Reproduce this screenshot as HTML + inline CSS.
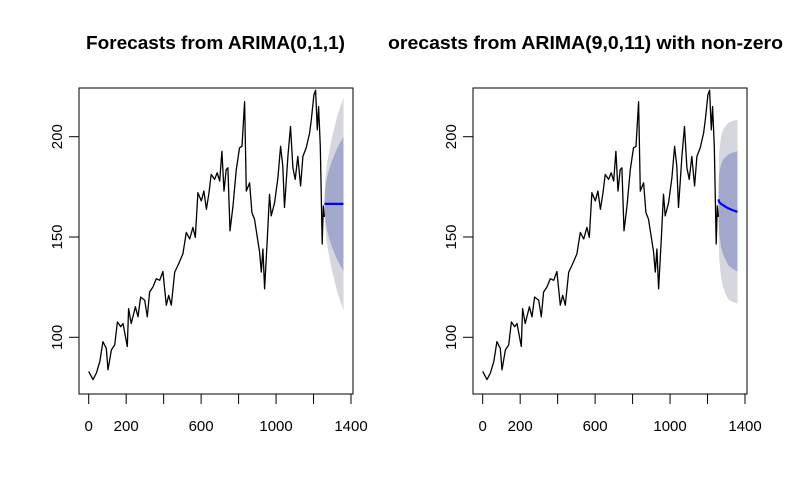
<!DOCTYPE html>
<html><head><meta charset="utf-8"><style>
html,body{margin:0;padding:0;background:#fff;}
svg{display:block;font-family:"Liberation Sans",Arial,sans-serif;}
</style></head><body>
<svg id="chart" width="787" height="493" viewBox="0 0 787 493">
<defs>
<clipPath id="clipL"><rect x="0" y="0" width="393" height="493"/></clipPath>
<clipPath id="clipR"><rect x="387" y="0" width="400" height="493"/></clipPath>
</defs>
</svg>
<script>
// observed series (time index, value)
const obsT=[0,23,41,59,76,94,103,121,139,153,171,183,206,213,227,249,263,277,299,313,325,343,361,379,396,414,427,441,459,476,503,521,539,556,569,583,601,615,628,642,654,672,686,699,711,722,734,743,754,770,788,805,818,832,841,859,871,885,912,921,930,939,953,965,974,992,1010,1024,1036,1045,1063,1077,1090,1102,1116,1131,1143,1161,1179,1188,1202,1211,1220,1227,1236,1246,1252,1258];
const obsV=[83.0,78.9,82.2,87.9,97.8,94.5,83.8,93.7,96.2,107.7,105.3,106.9,95.4,114.3,106.9,115.2,110.2,120.1,118.5,110.2,122.6,125.1,129.2,128.4,132.8,116.0,120.9,116.0,132.5,135.8,141.6,152.3,149.0,154.8,149.8,172.1,168.0,172.9,163.8,172.1,181.2,178.7,182.0,177.9,192.7,172.9,183.6,184.5,153.1,165.5,183.6,194.4,195.2,217.5,172.9,177.0,162.2,158.9,142.4,132.5,144.0,124.2,149.0,171.3,160.5,167.1,179.5,195.2,185.3,164.7,190.2,205.1,184.5,178.7,190.2,175.4,190.2,194.4,201.8,208.4,220.8,223.2,203.4,215.0,195.2,146.5,165.5,160.0];
// forecast horizon times
const fcT=[1258,1262,1272,1283,1297,1311,1330,1360];
// left model ARIMA(0,1,1)
const fcMeanL=[166.5,166.5,166.5,166.5,166.5,166.5,166.5,166.5];
const lo80L=[166.5,159.5,153.5,149.5,145.5,142.0,138.0,133.0];
const hi80L=[166.5,173.5,179.5,183.5,187.5,191.0,195.0,200.0];
const lo95L=[166.5,155.5,146.5,140.5,134.0,128.5,121.5,113.5];
const hi95L=[166.5,177.5,186.5,192.5,199.0,204.5,211.5,219.5];
// right model ARIMA(9,0,11)
const fcMeanR=[168.8,167.5,166.5,165.9,165.0,164.3,163.5,162.5];
const lo80R=[168.8,152.0,145.0,141.5,138.5,136.0,134.3,132.8];
const hi80R=[168.8,181.0,186.0,188.5,190.0,191.2,192.0,192.7];
const lo95R=[168.8,140.0,130.0,125.0,121.5,119.0,117.8,116.8];
const hi95R=[168.8,192.0,200.0,203.5,205.5,207.0,207.8,208.4];
const xTicks=[0,200,400,600,800,1000,1200,1400];
const xLabels=["0","200","","600","","1000","","1400"];
const yTicks=[100,150,200];
const titles=["Forecasts from ARIMA(0,1,1)","orecasts from ARIMA(9,0,11) with non-zero"];

const NS="http://www.w3.org/2000/svg";
const svg=document.getElementById('chart');
function mk(tag,attrs,parent){const e=document.createElementNS(NS,tag);for(const k in attrs)e.setAttribute(k,attrs[k]);parent.appendChild(e);return e;}
const BOX={l:79,r:353,t:88,b:394};
function xs(off){return t=>off+88.7+t*0.18736;}
const ys=v=>136.7+(200-v)*2.006;

function panel(off,clip,title,tx0,tlen,mean,lo80,hi80,lo95,hi95,name){
  const g=mk('g',{'clip-path':'url(#'+clip+')'},svg);
  
  
  const X=xs(off);
  function band(lo,hi,fill,nm){
    let d='M'+fcT.map((t,i)=>X(t).toFixed(1)+','+ys(hi[i]).toFixed(1)).join('L');
    d+='L'+fcT.map((t,i)=>X(t).toFixed(1)+','+ys(lo[i]).toFixed(1)).reverse().join('L')+'Z';
    const p=mk('path',{d:d,fill:fill,stroke:'none'},g);
    
    
  }
  band(lo95,hi95,'#d6d6de','band-95');
  band(lo80,hi80,'#a3a9cd','band-80');
  const pl=mk('polyline',{points:obsT.map((t,i)=>X(t).toFixed(1)+','+ys(obsV[i]).toFixed(1)).join(' '),fill:'none',stroke:'#000','stroke-width':1.3,'stroke-linejoin':'round'},g);
  
  
  const ml=mk('polyline',{points:fcT.map((t,i)=>X(t).toFixed(1)+','+ys(mean[i]).toFixed(1)).join(' '),fill:'none',stroke:'#0000ff','stroke-width':2.2},g);
  
  
  const box=mk('rect',{x:BOX.l+off,y:BOX.t,width:BOX.r-BOX.l,height:BOX.b-BOX.t,fill:'none',stroke:'#000','stroke-width':1},g);
  
  
  const xl=mk('line',{x1:X(0),x2:X(1400),y1:BOX.b,y2:BOX.b,stroke:'#000'},g);
  
  
  xTicks.forEach((t,i)=>{
    const tk=mk('line',{x1:X(t),x2:X(t),y1:BOX.b,y2:BOX.b+10,stroke:'#000'},g);
    
    
    if(xLabels[i]){
      const tx=mk('text',{x:X(t),y:431,'text-anchor':'middle','font-size':15},g);
      tx.textContent=xLabels[i];
      
      
    }
  });
  yTicks.forEach(v=>{
    const tk=mk('line',{x1:BOX.l+off-10,x2:BOX.l+off,y1:ys(v),y2:ys(v),stroke:'#000'},g);
    
    
    const tx=mk('text',{x:0,y:0,'text-anchor':'middle','font-size':15,transform:'translate('+(BOX.l+off-17)+','+ys(v)+') rotate(-90)'},g);
    tx.textContent=v;
    
    
  });
  const tt=mk('text',{x:tx0,y:49,'font-size':18,'font-weight':'bold',textLength:tlen,lengthAdjust:'spacingAndGlyphs'},g);
  tt.textContent=title;
  
  
}
panel(0,'clipL',titles[0],86,259,fcMeanL,lo80L,hi80L,lo95L,hi95L,'left-panel');
panel(394,'clipR',titles[1],388,395,fcMeanR,lo80R,hi80R,lo95R,hi95R,'right-panel');
</script>
</body></html>
